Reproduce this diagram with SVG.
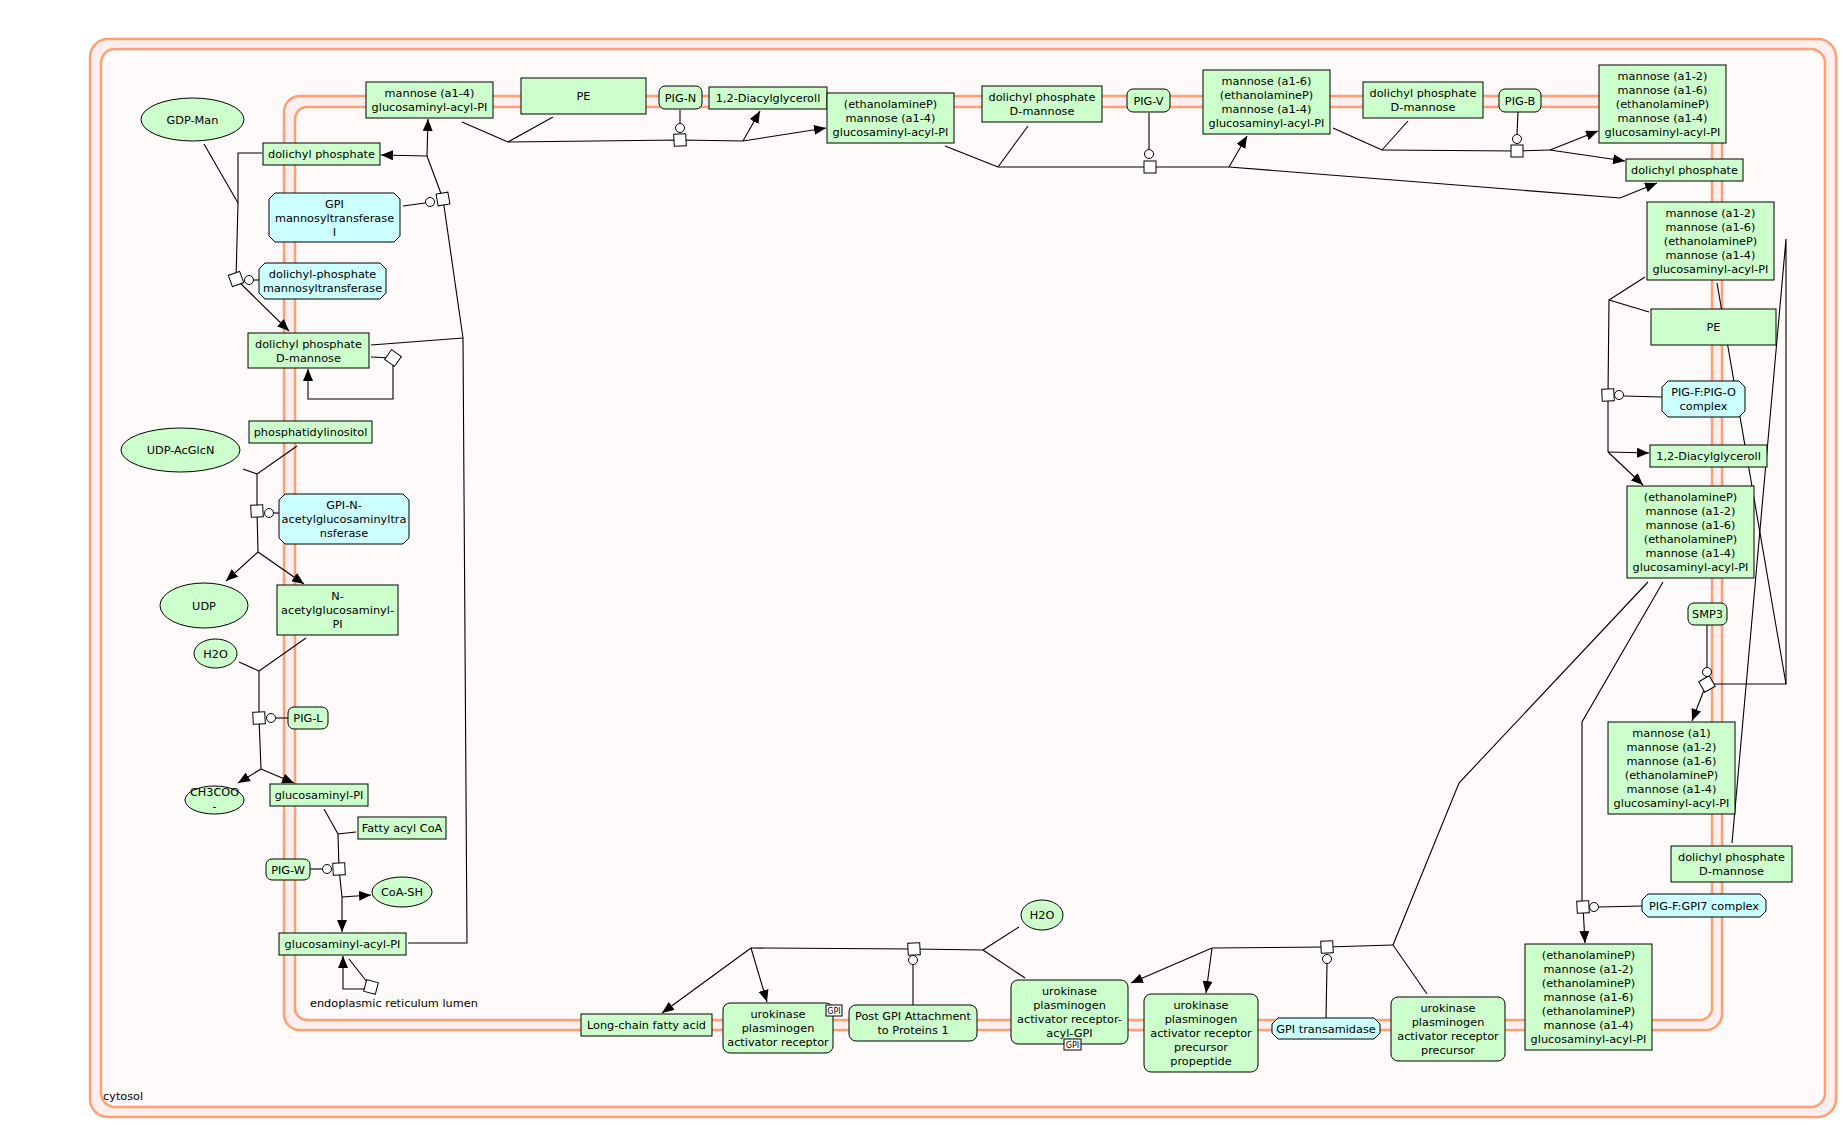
<svg xmlns="http://www.w3.org/2000/svg" width="1843" height="1125" viewBox="0 0 1843 1125">
<style>
  text { font-family: "DejaVu Sans", "Liberation Sans", sans-serif; font-size: 11.3px; fill: #000; text-anchor: middle; }
  .lbl { text-anchor: start; }
  .tag { font-size: 8px; }
  .g { fill: #ccffcc; stroke: #000; stroke-width: 1; }
  .b { fill: #ccffff; stroke: #000; stroke-width: 1; }
  .w { fill: #fff; stroke: #000; stroke-width: 1; }
  .memo { fill: #fcefee; stroke: #ff9f73; stroke-width: 2.5; }
  .memi { fill: #fdfaf9; stroke: #ff9f73; stroke-width: 2.5; }
  .c { fill: none; stroke: #000; stroke-width: 1.1; }
  .a { marker-end: url(#arr); }
</style>
<defs>
  <marker id="arr" markerUnits="userSpaceOnUse" markerWidth="12" markerHeight="10" refX="12" refY="5" orient="auto" viewBox="0 0 12 10">
    <path d="M0,0 L12,5 L0,10 z" fill="#000"/>
  </marker>
  <rect id="anc" class="w" x="-6" y="-6" width="12" height="12"/>
</defs>
<rect width="1843" height="1125" fill="#fff"/>

<!-- compartments -->
<g id="cytosol">
  <rect class="memo" x="90" y="39" width="1746" height="1078" rx="18"/>
  <rect class="memi" x="101" y="49" width="1724" height="1058" rx="14"/>
  <text class="lbl" x="103" y="1100">cytosol</text>
</g>
<g id="er-lumen">
  <rect class="memo" x="284" y="96" width="1438" height="934" rx="16"/>
  <rect class="memi" x="295" y="107" width="1417" height="913" rx="12"/>
  <text class="lbl" x="310" y="1007">endoplasmic reticulum lumen</text>
</g>

<!-- connectors -->
<g id="connectors">
  <!-- GPI mannosyltransferase I -->
  <path class="c" d="M408,943 L467,943 L463,338"/>
  <path class="c" d="M371,345 L463,338"/>
  <path class="c" d="M463,338 L443,199 L427,156"/>
  <path class="c a" d="M427,156 L381,155"/>
  <path class="c a" d="M427,156 L428,119"/>
  <path class="c" d="M403,206 L425,203"/>
  <!-- dolichyl-phosphate mannosyltransferase -->
  <path class="c" d="M204,144 L238,203"/>
  <path class="c" d="M262,153 L238,153 L238,203 L236,279"/>
  <path class="c a" d="M236,279 L289,331"/>
  <path class="c" d="M254,280 L259,280"/>
  <!-- dolichyl phosphate D-mannose loop -->
  <path class="c" d="M371,357 L393,358"/>
  <path class="c a" d="M393,364 L393,399 L308,399 L308,369"/>
  <!-- GPI-N-acetylglucosaminyltransferase -->
  <path class="c" d="M243,469 L257,474"/>
  <path class="c" d="M297,446 L257,474 L257,511 L258,552"/>
  <path class="c a" d="M258,552 L226,581"/>
  <path class="c a" d="M258,552 L304,584"/>
  <path class="c" d="M274,513 L279,513"/>
  <!-- PIG-L -->
  <path class="c" d="M239,662 L259,671"/>
  <path class="c" d="M306,638 L259,671 L259,718 L261,769"/>
  <path class="c a" d="M261,769 L238,783"/>
  <path class="c a" d="M261,769 L294,783"/>
  <path class="c" d="M276,718 L288,718"/>
  <!-- PIG-W -->
  <path class="c" d="M324,809 L338,834"/>
  <path class="c" d="M356,832 L338,834 L339,869 L342,897"/>
  <path class="c a" d="M342,897 L342,932"/>
  <path class="c a" d="M342,897 L371,895"/>
  <path class="c" d="M310,869 L322,869"/>
  <!-- glucosaminyl-acyl-PI loop -->
  <path class="c" d="M349,959 L371,987"/>
  <path class="c a" d="M365,989 L343,989 L343,956"/>
  <!-- PIG-N -->
  <path class="c" d="M462,122 L508,142"/>
  <path class="c" d="M553,117 L508,142"/>
  <path class="c" d="M508,142 L680,140 L743,141"/>
  <path class="c a" d="M743,141 L760,111"/>
  <path class="c a" d="M743,141 L826,128"/>
  <path class="c" d="M680,110 L680,123"/>
  <!-- PIG-V -->
  <path class="c" d="M945,146 L998,167"/>
  <path class="c" d="M1028,126 L998,167"/>
  <path class="c" d="M998,167 L1150,167 L1229,167"/>
  <path class="c a" d="M1229,167 L1247,136"/>
  <path class="c a" d="M1229,167 L1620,198 L1657,183"/>
  <path class="c" d="M1149,113 L1149,149"/>
  <!-- PIG-B -->
  <path class="c" d="M1333,128 L1382,150"/>
  <path class="c" d="M1408,121 L1382,150"/>
  <path class="c" d="M1382,150 L1517,151 L1550,150"/>
  <path class="c a" d="M1550,150 L1598,131"/>
  <path class="c a" d="M1550,150 L1625,161"/>
  <path class="c" d="M1518,112 L1517,134"/>
  <!-- PIG-F:PIG-O complex -->
  <path class="c" d="M1645,277 L1609,300"/>
  <path class="c" d="M1649,312 L1609,300 L1608,395 L1608,452"/>
  <path class="c a" d="M1608,452 L1649,453"/>
  <path class="c a" d="M1608,452 L1643,485"/>
  <path class="c" d="M1624,396 L1662,397"/>
  <!-- SMP3 -->
  <path class="c" d="M1717,283 L1786,684"/>
  <path class="c" d="M1732,843 L1786,239 L1786,684 L1713,684"/>
  <path class="c a" d="M1704,690 L1692,721"/>
  <path class="c" d="M1707,625 L1707,667"/>
  <!-- PIG-F:GPI7 complex -->
  <path class="c" d="M1663,582 L1582,722 L1582,907"/>
  <path class="c a" d="M1583,907 L1585,943"/>
  <path class="c" d="M1599,907 L1642,906"/>
  <!-- GPI transamidase -->
  <path class="c" d="M1648,582 L1459,783 L1393,945"/>
  <path class="c" d="M1427,994 L1393,945"/>
  <path class="c" d="M1393,945 L1327,947 L1212,948"/>
  <path class="c a" d="M1212,948 L1131,983"/>
  <path class="c a" d="M1212,948 L1206,993"/>
  <path class="c" d="M1327,964 L1326,1018"/>
  <!-- Post GPI Attachment to Proteins 1 -->
  <path class="c" d="M1025,978 L983,950"/>
  <path class="c" d="M1019,927 L983,950"/>
  <path class="c" d="M983,950 L914,949 L751,948"/>
  <path class="c a" d="M751,948 L662,1013"/>
  <path class="c a" d="M751,948 L767,1002"/>
  <path class="c" d="M913,965 L913,1005"/>

  <!-- anchors and catalysis circles -->
  <use href="#anc" transform="translate(443,199) rotate(-10)"/>
  <circle class="w" cx="430" cy="202" r="4.5"/>
  <use href="#anc" transform="translate(236,279) rotate(-20)"/>
  <circle class="w" cx="249" cy="280" r="4.5"/>
  <use href="#anc" transform="translate(393,358) rotate(35)"/>
  <use href="#anc" transform="translate(257,511) rotate(-3)"/>
  <circle class="w" cx="269" cy="513" r="4.5"/>
  <use href="#anc" transform="translate(259,718) rotate(-3)"/>
  <circle class="w" cx="271" cy="718" r="4.5"/>
  <use href="#anc" transform="translate(339,869) rotate(-3)"/>
  <circle class="w" cx="327" cy="869" r="4.5"/>
  <use href="#anc" transform="translate(371,987) rotate(15)"/>
  <use href="#anc" transform="translate(680,140) rotate(-3)"/>
  <circle class="w" cx="680" cy="128" r="4.5"/>
  <use href="#anc" transform="translate(1150,167)"/>
  <circle class="w" cx="1149" cy="154" r="4.5"/>
  <use href="#anc" transform="translate(1517,151)"/>
  <circle class="w" cx="1517" cy="139" r="4.5"/>
  <use href="#anc" transform="translate(1608,395) rotate(-3)"/>
  <circle class="w" cx="1619" cy="395" r="4.5"/>
  <use href="#anc" transform="translate(1707,684) rotate(-30)"/>
  <circle class="w" cx="1707" cy="672" r="4.5"/>
  <use href="#anc" transform="translate(1583,907) rotate(-3)"/>
  <circle class="w" cx="1594" cy="907" r="4.5"/>
  <use href="#anc" transform="translate(1327,947) rotate(-3)"/>
  <circle class="w" cx="1327" cy="959" r="4.5"/>
  <use href="#anc" transform="translate(914,949) rotate(-3)"/>
  <circle class="w" cx="913" cy="960" r="4.5"/>
</g>

<!-- nodes: left column -->
<g id="n-gdpman"><ellipse class="g" cx="192.5" cy="119.5" rx="51.5" ry="21.5"/><text x="192.5" y="123.5">GDP-Man</text></g>
<g id="n-dolp1"><rect class="g" x="263" y="143" width="117" height="22"/><text x="321.5" y="158">dolichyl phosphate</text></g>
<g id="n-man14"><rect class="g" x="366" y="82" width="127" height="36"/><text x="429.5" y="97">mannose (a1-4)</text><text x="429.5" y="111">glucosaminyl-acyl-PI</text></g>
<g id="n-gpimt1"><polygon class="b" points="275,193 394,193 400,199 400,236 394,242 275,242 269,236 269,199"/><text x="334.5" y="207.5">GPI</text><text x="334.5" y="221.5">mannosyltransferase</text><text x="334.5" y="235.5">I</text></g>
<g id="n-dpmt"><polygon class="b" points="265,263 380,263 386,269 386,293 380,299 265,299 259,293 259,269"/><text x="322.5" y="278">dolichyl-phosphate</text><text x="322.5" y="292">mannosyltransferase</text></g>
<g id="n-dpman1"><rect class="g" x="248" y="333" width="121" height="35"/><text x="308.5" y="347.5">dolichyl phosphate</text><text x="308.5" y="361.5">D-mannose</text></g>
<g id="n-pi"><rect class="g" x="249" y="421" width="123" height="22"/><text x="310.5" y="436">phosphatidylinositol</text></g>
<g id="n-udpacglcn"><ellipse class="g" cx="180.5" cy="450" rx="59.5" ry="22"/><text x="180.5" y="454">UDP-AcGlcN</text></g>
<g id="n-gpignt"><polygon class="b" points="285,494 403,494 409,500 409,538 403,544 285,544 279,538 279,500"/><text x="344" y="509">GPI-N-</text><text x="344" y="523">acetylglucosaminyltra</text><text x="344" y="537">nsferase</text></g>
<g id="n-udp"><ellipse class="g" cx="204" cy="605.5" rx="44" ry="22.5"/><text x="204" y="609.5">UDP</text></g>
<g id="n-glcnacpi"><rect class="g" x="277" y="585" width="121" height="50"/><text x="337.5" y="600">N-</text><text x="337.5" y="614">acetylglucosaminyl-</text><text x="337.5" y="628">PI</text></g>
<g id="n-h2o-1"><ellipse class="g" cx="215.5" cy="653.5" rx="21.5" ry="14.5"/><text x="215.5" y="657.5">H2O</text></g>
<g id="n-pigl"><rect class="g" x="288" y="707" width="40" height="22" rx="6"/><text x="308" y="722">PIG-L</text></g>
<g id="n-ch3coo"><ellipse class="g" cx="214.5" cy="800" rx="29.5" ry="14"/><text x="214.5" y="796">CH3COO</text><text x="214.5" y="810">-</text></g>
<g id="n-glcnpi"><rect class="g" x="270" y="784" width="98" height="22"/><text x="319" y="799">glucosaminyl-PI</text></g>
<g id="n-facoa"><rect class="g" x="358" y="817" width="88" height="22"/><text x="402" y="832">Fatty acyl CoA</text></g>
<g id="n-pigw"><rect class="g" x="266" y="859" width="44" height="21" rx="6"/><text x="288" y="873.5">PIG-W</text></g>
<g id="n-coash"><ellipse class="g" cx="402" cy="892" rx="30" ry="15"/><text x="402" y="896">CoA-SH</text></g>
<g id="n-glcnacylpi"><rect class="g" x="279" y="933" width="127" height="22"/><text x="342.5" y="948">glucosaminyl-acyl-PI</text></g>

<!-- nodes: top row -->
<g id="n-pe1"><rect class="g" x="521" y="78" width="125" height="36"/><text x="583.5" y="100">PE</text></g>
<g id="n-pign"><rect class="g" x="659" y="86" width="43" height="23" rx="6"/><text x="680.5" y="101.5">PIG-N</text></g>
<g id="n-dag1"><rect class="g" x="709" y="87" width="118" height="22"/><text x="768" y="102">1,2-Diacylglyceroll</text></g>
<g id="n-etnp1"><rect class="g" x="827" y="93" width="127" height="50"/><text x="890.5" y="108">(ethanolamineP)</text><text x="890.5" y="122">mannose (a1-4)</text><text x="890.5" y="136">glucosaminyl-acyl-PI</text></g>
<g id="n-dpman2"><rect class="g" x="982" y="86" width="120" height="36"/><text x="1042" y="101">dolichyl phosphate</text><text x="1042" y="115">D-mannose</text></g>
<g id="n-pigv"><rect class="g" x="1127" y="89" width="43" height="23" rx="6"/><text x="1148.5" y="104.5">PIG-V</text></g>
<g id="n-man16"><rect class="g" x="1203" y="70" width="127" height="64"/><text x="1266.5" y="85">mannose (a1-6)</text><text x="1266.5" y="99">(ethanolamineP)</text><text x="1266.5" y="113">mannose (a1-4)</text><text x="1266.5" y="127">glucosaminyl-acyl-PI</text></g>
<g id="n-dpman3"><rect class="g" x="1363" y="82" width="120" height="36"/><text x="1423" y="97">dolichyl phosphate</text><text x="1423" y="111">D-mannose</text></g>
<g id="n-pigb"><rect class="g" x="1499" y="89" width="42" height="23" rx="6"/><text x="1520" y="104.5">PIG-B</text></g>
<g id="n-man12a"><rect class="g" x="1599" y="65" width="127" height="78"/><text x="1662.5" y="80">mannose (a1-2)</text><text x="1662.5" y="94">mannose (a1-6)</text><text x="1662.5" y="108">(ethanolamineP)</text><text x="1662.5" y="122">mannose (a1-4)</text><text x="1662.5" y="136">glucosaminyl-acyl-PI</text></g>
<g id="n-dolp2"><rect class="g" x="1626" y="159" width="117" height="22"/><text x="1684.5" y="174">dolichyl phosphate</text></g>

<!-- nodes: right column -->
<g id="n-man12b"><rect class="g" x="1647" y="202" width="127" height="78"/><text x="1710.5" y="217">mannose (a1-2)</text><text x="1710.5" y="231">mannose (a1-6)</text><text x="1710.5" y="245">(ethanolamineP)</text><text x="1710.5" y="259">mannose (a1-4)</text><text x="1710.5" y="273">glucosaminyl-acyl-PI</text></g>
<g id="n-pe2"><rect class="g" x="1651" y="309" width="125" height="36"/><text x="1713.5" y="331">PE</text></g>
<g id="n-pigfo"><polygon class="b" points="1668,381 1739,381 1745,387 1745,411 1739,417 1668,417 1662,411 1662,387"/><text x="1703.5" y="396">PIG-F:PIG-O</text><text x="1703.5" y="410">complex</text></g>
<g id="n-dag2"><rect class="g" x="1650" y="445" width="117" height="22"/><text x="1708.5" y="460">1,2-Diacylglyceroll</text></g>
<g id="n-etnp6"><rect class="g" x="1627" y="486" width="127" height="92"/><text x="1690.5" y="501">(ethanolamineP)</text><text x="1690.5" y="515">mannose (a1-2)</text><text x="1690.5" y="529">mannose (a1-6)</text><text x="1690.5" y="543">(ethanolamineP)</text><text x="1690.5" y="557">mannose (a1-4)</text><text x="1690.5" y="571">glucosaminyl-acyl-PI</text></g>
<g id="n-smp3"><rect class="g" x="1688" y="603" width="39" height="22" rx="6"/><text x="1707.5" y="618">SMP3</text></g>
<g id="n-man1"><rect class="g" x="1608" y="722" width="127" height="92"/><text x="1671.5" y="737">mannose (a1)</text><text x="1671.5" y="751">mannose (a1-2)</text><text x="1671.5" y="765">mannose (a1-6)</text><text x="1671.5" y="779">(ethanolamineP)</text><text x="1671.5" y="793">mannose (a1-4)</text><text x="1671.5" y="807">glucosaminyl-acyl-PI</text></g>
<g id="n-dpman4"><rect class="g" x="1671" y="846" width="121" height="36"/><text x="1731.5" y="861">dolichyl phosphate</text><text x="1731.5" y="875">D-mannose</text></g>
<g id="n-pigf7"><polygon class="b" points="1648,894 1760,894 1766,900 1766,911 1760,917 1648,917 1642,911 1642,900"/><text x="1704" y="909.5">PIG-F:GPI7 complex</text></g>
<g id="n-final"><rect class="g" x="1525" y="944" width="127" height="106"/><text x="1588.5" y="959">(ethanolamineP)</text><text x="1588.5" y="973">mannose (a1-2)</text><text x="1588.5" y="987">(ethanolamineP)</text><text x="1588.5" y="1001">mannose (a1-6)</text><text x="1588.5" y="1015">(ethanolamineP)</text><text x="1588.5" y="1029">mannose (a1-4)</text><text x="1588.5" y="1043">glucosaminyl-acyl-PI</text></g>

<!-- nodes: bottom row -->
<g id="n-upar-prec"><rect class="g" x="1391" y="997" width="114" height="64" rx="7"/><text x="1448" y="1012">urokinase</text><text x="1448" y="1026">plasminogen</text><text x="1448" y="1040">activator receptor</text><text x="1448" y="1054">precursor</text></g>
<g id="n-gpit"><polygon class="b" points="1278,1018 1374,1018 1380,1024 1380,1033 1374,1039 1278,1039 1272,1033 1272,1024"/><text x="1326" y="1032.5">GPI transamidase</text></g>
<g id="n-propep"><rect class="g" x="1144" y="994" width="114" height="78" rx="7"/><text x="1201" y="1009">urokinase</text><text x="1201" y="1023">plasminogen</text><text x="1201" y="1037">activator receptor</text><text x="1201" y="1051">precursor</text><text x="1201" y="1065">propeptide</text></g>
<g id="n-h2o-2"><ellipse class="g" cx="1042" cy="915" rx="21" ry="15"/><text x="1042" y="919">H2O</text></g>
<g id="n-uparacyl"><rect class="g" x="1011" y="980" width="117" height="64" rx="7"/><text x="1069.5" y="995">urokinase</text><text x="1069.5" y="1009">plasminogen</text><text x="1069.5" y="1023">activator receptor-</text><text x="1069.5" y="1037">acyl-GPI</text><rect class="w" x="1064" y="1039" width="17" height="11"/><text class="tag" x="1072.5" y="1047.5">GPI</text></g>
<g id="n-pgap1"><rect class="g" x="849" y="1005" width="128" height="36" rx="7"/><text x="913" y="1020">Post GPI Attachment</text><text x="913" y="1034">to Proteins 1</text></g>
<g id="n-upar"><rect class="g" x="723" y="1003" width="110" height="50" rx="7"/><text x="778" y="1018">urokinase</text><text x="778" y="1032">plasminogen</text><text x="778" y="1046">activator receptor</text><rect class="w" x="826" y="1005" width="16" height="11"/><text class="tag" x="834" y="1013.5">GPI</text></g>
<g id="n-lcfa"><rect class="g" x="581" y="1014" width="131" height="22"/><text x="646.5" y="1029">Long-chain fatty acid</text></g>
</svg>
